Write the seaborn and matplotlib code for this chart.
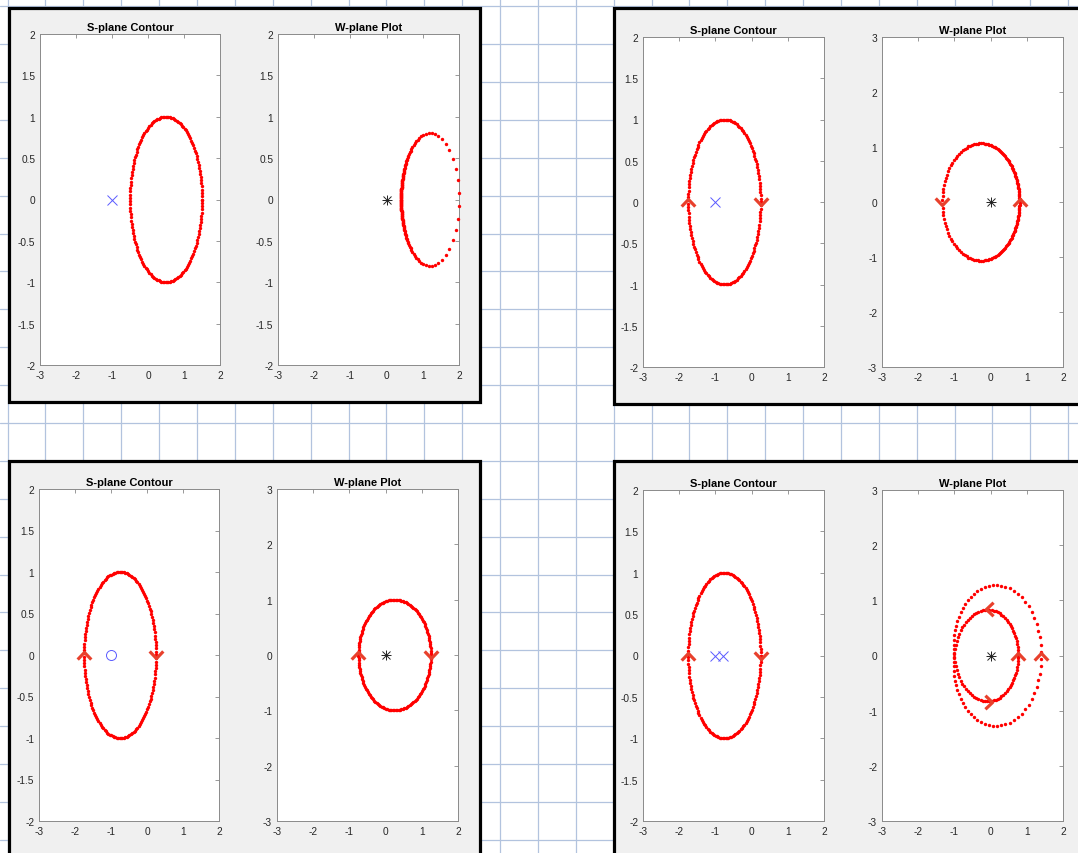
import numpy as np
import matplotlib
matplotlib.use("Agg")
import matplotlib.pyplot as plt
import seaborn as sns
from matplotlib.markers import MarkerStyle
from matplotlib.path import Path
from matplotlib.transforms import Affine2D
from matplotlib.patches import Rectangle
from matplotlib.ticker import FixedLocator, FuncFormatter

# ---------------- data ----------------
s_title = "S-plane Contour"
w_title = "W-plane Plot"
# S-plane contour: circle (centre on real axis, radius), sampled with dots
contour_center = [0.5, -0.75, -0.75, -0.75]
contour_radius = [1.0, 1.0, 1.0, 1.0]
contour_samples = 160
# open-loop poles / zeros shown in the S-plane; W(s) = prod(s-z) / prod(s-p)
poles = [[-1.0], [-1.0], [], [-1.0, -0.8]]
zeros = [[], [], [-1.0], []]
# axis limits / ticks
s_xlim = [-3, 2]
s_ylim = [-2, 2]
w_xlim = [-3, 2]
w_ylim = [[-2, 2], [-3, 3], [-3, 3], [-3, 3]]
x_ticks = [-3, -2, -1, 0, 1, 2]
y_ticks_half = [-2, -1.5, -1, -0.5, 0, 0.5, 1, 1.5, 2]
y_ticks_unit = [-3, -2, -1, 0, 1, 2, 3]
w_yticks = [y_ticks_half, y_ticks_unit, y_ticks_unit, y_ticks_unit]
# direction arrows (chevrons) on the contours
s_arrow_x = [[], [-1.75, 0.25], [-1.75, 0.25], [-1.75, 0.25]]
s_arrow_y = [[], [0.0, 0.0], [0.0, 0.0], [0.0, 0.0]]
s_arrow_dir = [[], ["up", "down"], ["up", "down"], ["up", "down"]]
w_arrow_x = [[], [-1.333, 0.8], [-0.75, 1.25], [0.76, 1.40, -0.05, -0.05]]
w_arrow_y = [[], [0.0, 0.0], [0.0, 0.0], [0.0, 0.0, 0.84, -0.84]]
w_arrow_dir = [[], ["down", "up"], ["up", "down"], ["up", "up", "left", "right"]]

# ---------------- layout (pixels, top-left origin) ----------------
W_PX, H_PX = 1078, 854
panel_rects = [(9, 9, 480.3, 403.3), (613.7, 9, 1095, 404.5),
               (9, 461.7, 480.3, 870), (614.3, 462.3, 1095, 870)]
s_axes_px = [(40, 35, 220, 366), (643, 38, 824, 368),
             (39, 490, 219, 822), (643, 491, 824, 822)]
w_axes_px = [(278, 35, 459, 366), (882, 38, 1063, 368),
             (277, 490, 458, 822), (882, 491, 1063, 822)]

sns.set_theme(style="white")
plt.rcParams["font.family"] = ["Liberation Sans", "DejaVu Sans"]
plt.rcParams["axes.unicode_minus"] = False

fig = plt.figure(figsize=(W_PX / 100, H_PX / 100), dpi=100)
fig.patch.set_facecolor("white")

# graph-paper background
bg = fig.add_axes([0, 0, 1, 1], zorder=0)
bg.set_xlim(0, W_PX)
bg.set_ylim(H_PX, 0)
bg.axis("off")
grid_step = 37.88
for k in range(30):
    bg.axvline(7.6 + k * grid_step, color="#b2c3de", lw=0.9, zorder=0)
for k in range(24):
    bg.axhline(7.3 + k * grid_step, color="#b2c3de", lw=0.9, zorder=0)
for (x0, y0, x1, y1) in panel_rects:
    bg.add_patch(Rectangle((x0, y0), x1 - x0, y1 - y0, facecolor="#f0f0f0",
                           edgecolor="black", lw=2.3, zorder=2, clip_on=False))


def px_to_rect(p):
    l, t, r, b = p
    return [l / W_PX, 1 - b / H_PX, (r - l) / W_PX, (b - t) / H_PX]


chev = Path([(-1.0, -0.6), (0.0, 0.45), (1.0, -0.6)],
            [Path.MOVETO, Path.LINETO, Path.LINETO])
dir_angle = {"up": 0, "down": 180, "left": 90, "right": -90}


def chevron(d):
    return MarkerStyle(chev, fillstyle="none",
                       transform=Affine2D().rotate_deg(dir_angle[d]),
                       joinstyle="miter", capstyle="butt")


fmt = FuncFormatter(lambda v, p: f"{v:g}")


def style_axes(ax, xlim, ylim, yt, title):
    ax.set_facecolor("white")
    ax.set_xlim(xlim)
    ax.set_ylim(ylim)
    ax.xaxis.set_major_locator(FixedLocator(x_ticks))
    ax.yaxis.set_major_locator(FixedLocator(yt))
    ax.xaxis.set_major_formatter(fmt)
    ax.yaxis.set_major_formatter(fmt)
    ax.tick_params(direction="in", length=2.6, width=0.6, color="#888888",
                   top=True, right=True, labelsize=7.3, labelcolor="#262626",
                   pad=3.5)
    for sp in ax.spines.values():
        sp.set_visible(True)
        sp.set_color("#8a8a8a")
        sp.set_linewidth(0.7)
    ax.set_title(title, fontsize=8, fontweight="bold", color="black", pad=3)
    ax.set_xlabel("")
    ax.set_ylabel("")


def draw_arrows(ax, xs, ys, ds):
    for x, y, d in zip(xs, ys, ds):
        ax.plot([x], [y], ls="none", marker=chevron(d), ms=9.8, mew=2.3,
                mec="#e8402c", mfc="none", zorder=5, clip_on=False)


for i in range(4):
    theta = np.linspace(0, 2 * np.pi, contour_samples)
    s = contour_center[i] + contour_radius[i] * np.exp(1j * theta)
    num = np.ones_like(s)
    for z in zeros[i]:
        num = num * (s - z)
    den = np.ones_like(s)
    for p in poles[i]:
        den = den * (s - p)
    w = num / den

    # S-plane
    ax_s = fig.add_axes(px_to_rect(s_axes_px[i]), zorder=3)
    sns.scatterplot(x=s.real, y=s.imag, ax=ax_s, color="#ff0000", s=6,
                    linewidth=0, clip_on=False, zorder=3)
    if poles[i]:
        ax_s.plot(poles[i], [0] * len(poles[i]), ls="none", marker="x",
                  ms=6.7, mew=0.7, color="#5a5aff", zorder=4)
    if zeros[i]:
        ax_s.plot(zeros[i], [0] * len(zeros[i]), ls="none", marker="o",
                  ms=7.2, mew=0.7, mec="#5a5aff", mfc="none", zorder=4)
    draw_arrows(ax_s, s_arrow_x[i], s_arrow_y[i], s_arrow_dir[i])
    style_axes(ax_s, s_xlim, s_ylim, y_ticks_half, s_title)

    # W-plane
    ax_w = fig.add_axes(px_to_rect(w_axes_px[i]), zorder=3)
    sns.scatterplot(x=w.real, y=w.imag, ax=ax_w, color="#ff0000", s=6,
                    linewidth=0, clip_on=False, zorder=3)
    ax_w.plot([0], [0], ls="none", marker="+", ms=7.5, mew=0.7,
              color="#222222", zorder=4)
    ax_w.plot([0], [0], ls="none", marker="x", ms=5.3, mew=0.7,
              color="#222222", zorder=4)
    draw_arrows(ax_w, w_arrow_x[i], w_arrow_y[i], w_arrow_dir[i])
    style_axes(ax_w, w_xlim, w_ylim[i], w_yticks[i], w_title)

fig.savefig("out.png", dpi=100)
